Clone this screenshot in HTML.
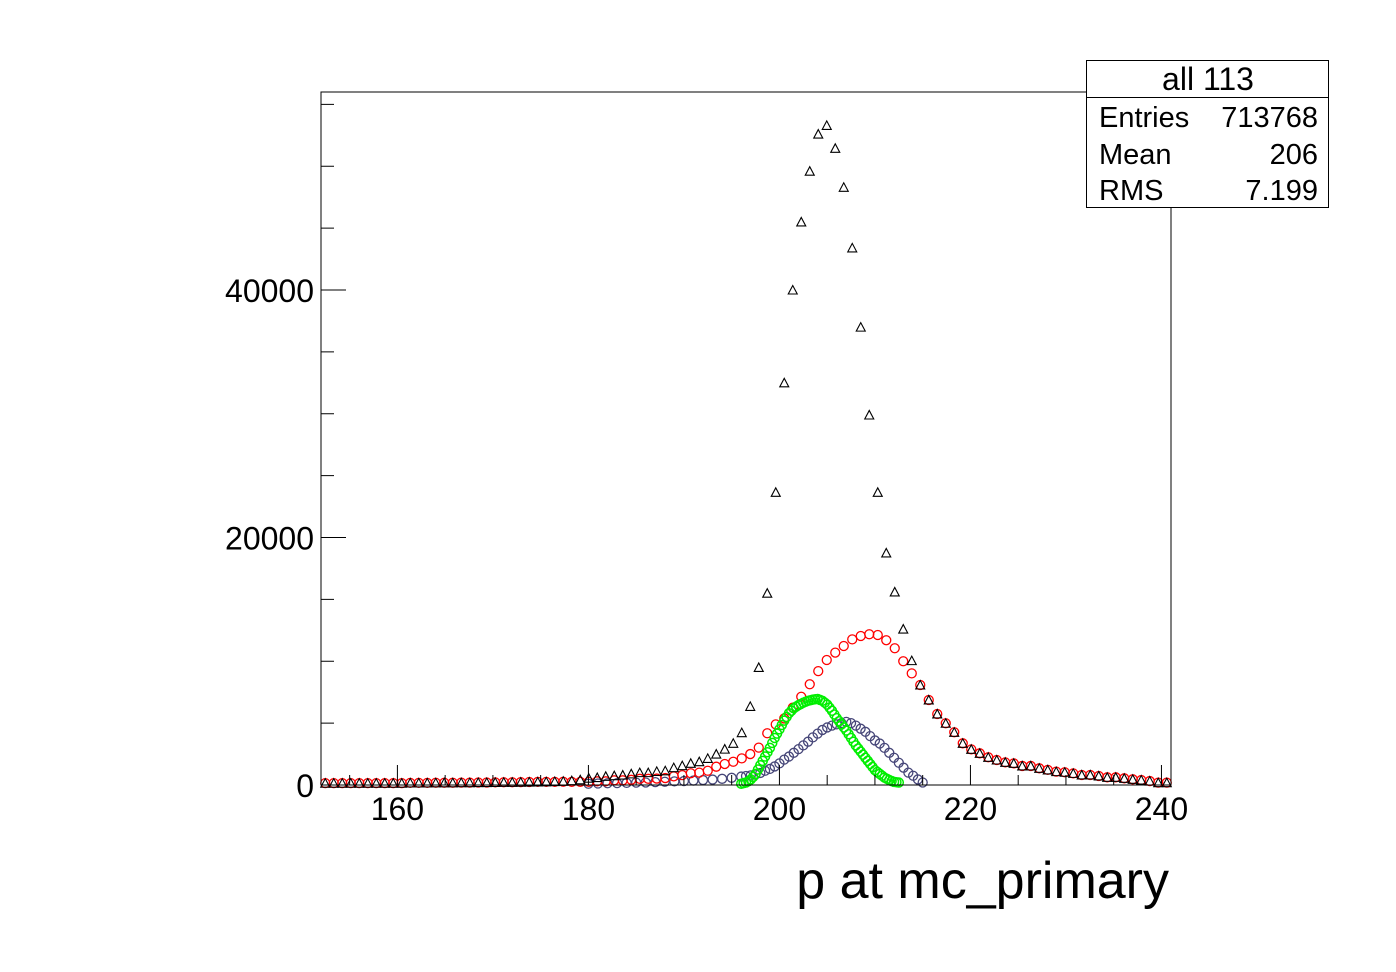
<!DOCTYPE html>
<html><head><meta charset="utf-8"><style>
html,body{margin:0;padding:0;background:#fff;}
svg{display:block;font-family:"Liberation Sans",sans-serif;}
</style></head><body>
<svg id="chart" width="1396" height="972" viewBox="0 0 1396 972" xmlns="http://www.w3.org/2000/svg">
<rect x="0" y="0" width="1396" height="972" fill="#fff"/>
<g id="marks"></g>
<g id="axes"></g>
<rect x="321" y="92" width="850" height="693" fill="none" stroke="#000" stroke-width="1"/>
<g>
<rect x="1086.5" y="60.5" width="242" height="147" fill="#fff" stroke="#000" stroke-width="1"/>
<line x1="1086.5" y1="97.5" x2="1328.5" y2="97.5" stroke="#000"/>
<text x="1208" y="90" font-size="32" text-anchor="middle">all 113</text>
<text x="1099" y="127" font-size="29">Entries</text>
<text x="1318" y="127" font-size="29" text-anchor="end">713768</text>
<text x="1099" y="164" font-size="29">Mean</text>
<text x="1318" y="164" font-size="29" text-anchor="end">206</text>
<text x="1099" y="200" font-size="29">RMS</text>
<text x="1318" y="200" font-size="29" text-anchor="end">7.199</text>
</g>
<text x="1169" y="898" font-size="52" text-anchor="end">p at mc_primary</text>
</svg>
<script>
// Coarse binning: 100 bins from 152 to 241
const coarseStart = 152, coarseWidth = 0.89;
const allCounts = [150,150,150,150,150,150,150,150,150,150,170,170,170,180,180,180,190,190,200,200,210,220,220,230,240,250,260,280,300,350,420,550,600,700,750,800,900,1000,1000,1100,1150,1400,1560,1750,1880,2150,2500,2900,3370,4230,6350,9500,15500,23650,32500,40000,45500,49600,52600,53300,51450,48300,43400,37000,29900,23650,18750,15600,12600,10050,8080,6870,5740,4990,4260,3370,2880,2560,2240,2020,1830,1750,1540,1540,1350,1220,1080,1030,940,810,810,730,620,620,540,460,400,320,190,190];
const redCounts = [150,150,150,150,150,150,150,150,150,150,170,170,170,180,180,180,190,190,200,200,210,220,220,230,240,250,250,250,260,250,250,250,300,300,380,380,420,500,500,520,560,700,800,950,1000,1150,1480,1700,1880,2150,2500,3020,4180,4900,5380,6250,7130,8140,9200,10100,10700,11230,11770,12040,12180,12120,11700,11050,10000,9020,8080,6870,5740,4990,4260,3370,2880,2560,2240,2020,1830,1750,1540,1540,1350,1220,1080,1030,940,810,810,730,620,620,540,460,400,320,190,190];
// Fine binning series
const greenX = [196,196.25,196.5,196.75,197,197.25,197.5,197.75,198,198.25,198.5,198.75,199,199.25,199.5,199.75,200,200.25,200.5,200.75,201,201.25,201.5,201.75,202,202.25,202.5,202.75,203,203.25,203.5,203.75,204,204.25,204.5,204.75,205,205.25,205.5,205.75,206,206.25,206.5,206.75,207,207.25,207.5,207.75,208,208.25,208.5,208.75,209,209.25,209.5,209.75,210,210.25,210.5,210.75,211,211.25,211.5,211.75,212,212.25,212.5];
const greenCounts = [100,150,200,300,450,650,900,1250,1600,1950,2300,2650,3000,3400,3800,4150,4500,4850,5200,5500,5800,6000,6200,6330,6450,6550,6650,6730,6800,6850,6900,6930,6950,6880,6800,6650,6500,6250,6000,5700,5400,5150,4900,4650,4400,4100,3800,3500,3200,2950,2700,2450,2200,1950,1700,1450,1200,1050,900,750,600,500,400,320,250,220,200];
const blueX = [180,181,182,183,184,185,186,187,188,189,190,191,192,193,194,195,196,196.5,197,197.5,198,198.5,199,199.5,200,200.5,201,201.5,202,202.5,203,203.5,204,204.5,205,205.5,206,206.5,207,207.5,208,208.5,209,209.5,210,210.5,211,211.5,212,212.5,213,213.5,214,214.5,215];
const blueCounts = [100,120,140,150,170,190,200,230,260,290,320,360,400,440,500,580,680,730,780,850,970,1150,1300,1500,1750,2050,2300,2600,2900,3200,3500,3850,4150,4450,4650,4800,4900,5000,5100,5000,4800,4550,4300,3950,3600,3350,3000,2600,2200,1800,1400,1000,750,450,200];
const xTickValues = [160,180,200,220,240];
const yTickValues = [0,20000,40000];

const X0=321, X1=1171, Y0=785, Y1=92, xmin=152, xmax=241, ymin=0, ymax=56000;
function sx(v){return X0+(v-xmin)/(xmax-xmin)*(X1-X0);}
function sy(v){return Y0-(v-ymin)/(ymax-ymin)*(Y0-Y1);}
const NS='http://www.w3.org/2000/svg';
const marks=document.getElementById('marks'), axes=document.getElementById('axes');
function mk(tag,attrs,parent){const e=document.createElementNS(NS,tag);for(const k in attrs)e.setAttribute(k,attrs[k]);parent.appendChild(e);return e;}

blueX.forEach((x,i)=>{
  const c=mk('circle',{cx:sx(x),cy:sy(blueCounts[i]),r:4.5,fill:'none',stroke:'#464678','stroke-width':1.3},marks);
  
  
});
redCounts.forEach((v,i)=>{
  const c=mk('circle',{cx:sx(coarseStart+coarseWidth*(i+0.5)),cy:sy(v),r:4.5,fill:'none',stroke:'#ff0000','stroke-width':1.3},marks);
  
  
});
greenX.forEach((x,i)=>{
  const c=mk('circle',{cx:sx(x),cy:sy(greenCounts[i]),r:4.5,fill:'none',stroke:'#00ee00','stroke-width':1.5},marks);
  
  
});
allCounts.forEach((v,i)=>{
  const cx=sx(coarseStart+coarseWidth*(i+0.5)), cy=sy(v);
  const p=mk('polygon',{points:`${cx-4.5},${cy+4} ${cx+4.5},${cy+4} ${cx},${cy-4.5}`,fill:'none',stroke:'#000','stroke-width':1.1},marks);
  
  
});

for(let v=155; v<=240; v+=5){
  const major = v%20===0;
  const l=mk('line',{x1:sx(v),x2:sx(v),y1:Y0,y2:Y0-(major?20:10),stroke:'#000','stroke-width':1},axes);
  
  
}
xTickValues.forEach(v=>{
  const t=mk('text',{x:sx(v),y:820,'font-size':32,'text-anchor':'middle'},axes);
  t.textContent=v;
  
  
});
for(let v=0; v<=55000; v+=5000){
  const major = v%20000===0;
  const l=mk('line',{x1:X0,x2:X0+(major?25:13),y1:sy(v),y2:sy(v),stroke:'#000','stroke-width':1},axes);
  
  
}
yTickValues.forEach(v=>{
  const t=mk('text',{x:314,y:sy(v)+12,'font-size':32,'text-anchor':'end'},axes);
  t.textContent=v;
  
  
});
</script>
</body></html>
